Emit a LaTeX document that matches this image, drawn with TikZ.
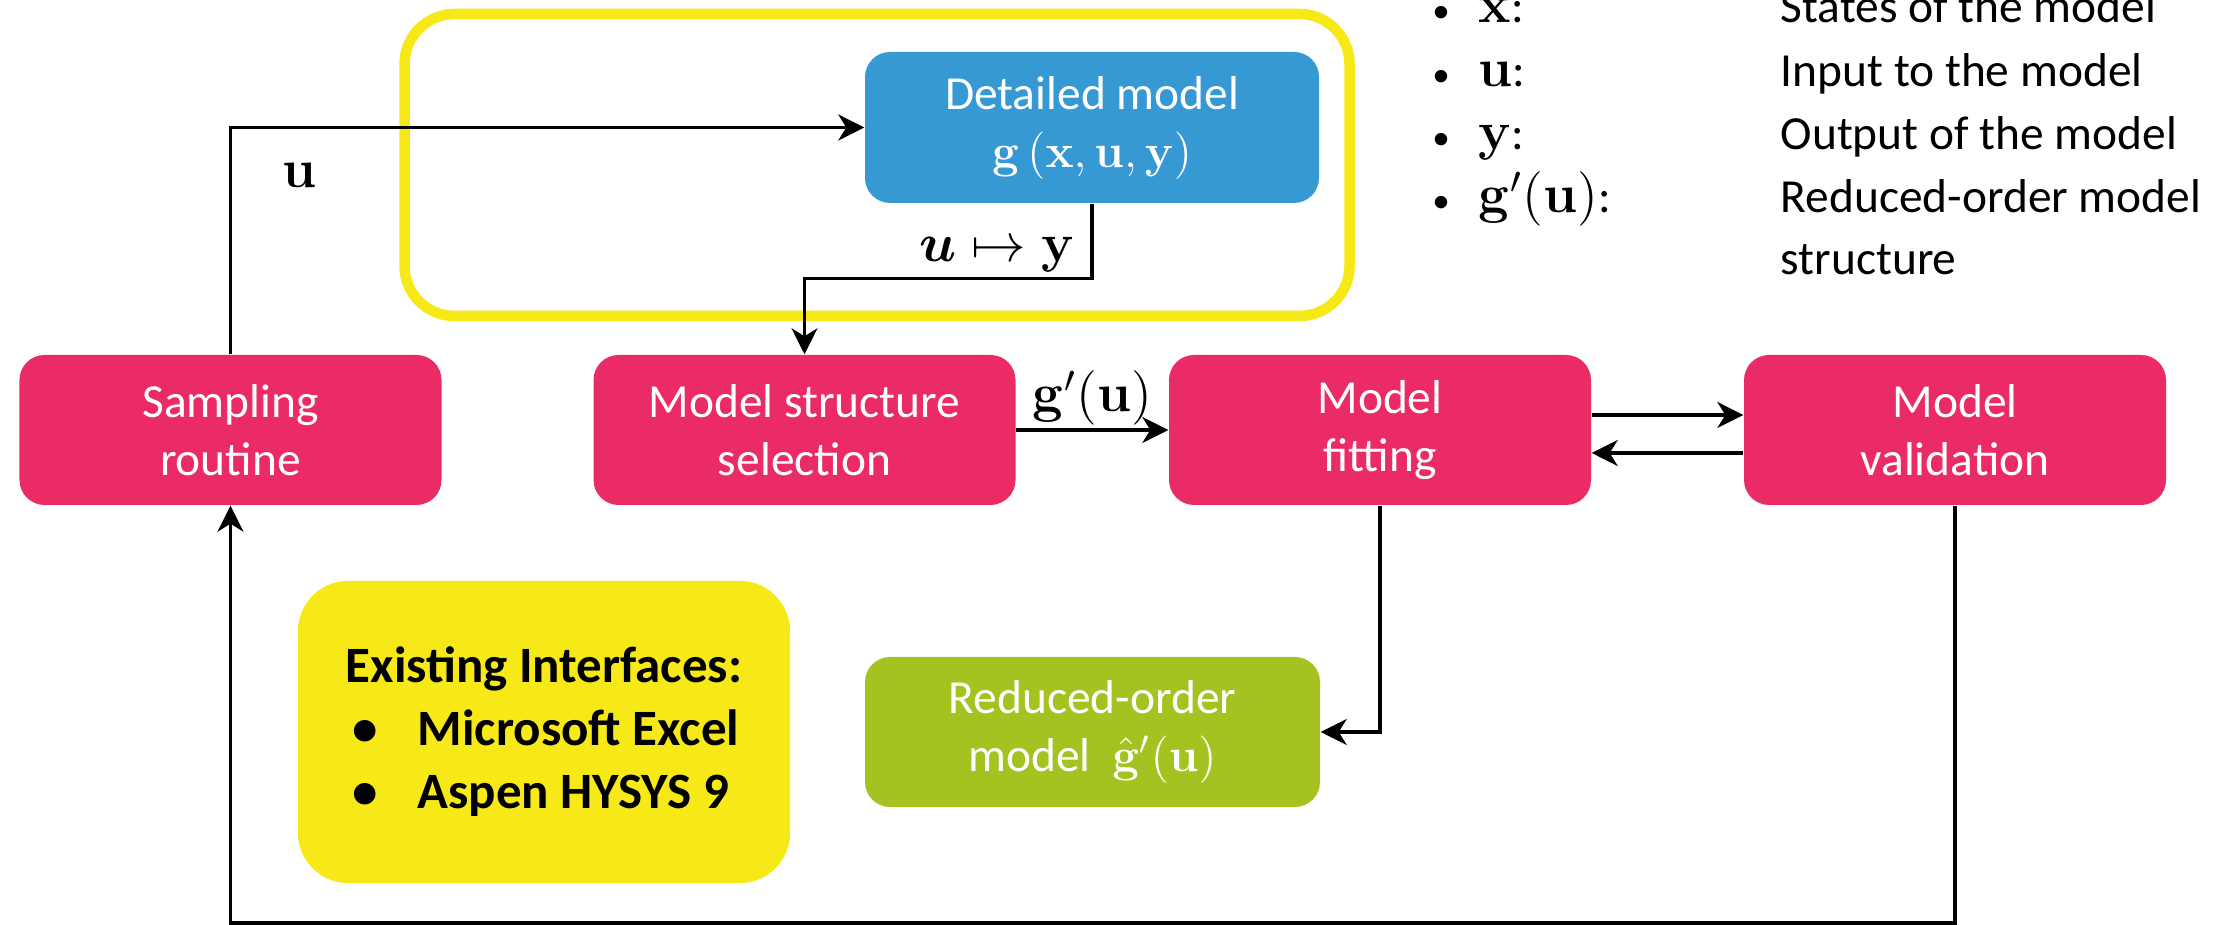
\RequirePackage{fix-cm}
\documentclass[tikz,border=0pt]{standalone}
\usepackage{amsmath, amssymb}
\usepackage[no-math]{fontspec}
\setmainfont{Carlito}
\usetikzlibrary{arrows.meta, positioning}

\definecolor{rosa}{RGB}{234,43,101}
\definecolor{azul}{RGB}{55,153,212}
\definecolor{verde}{RGB}{165,195,32}
\definecolor{amarillo}{RGB}{247,233,24}

\newcommand{\textoCaja}{\fontsize{13.5}{16.5}\selectfont}
\newcommand{\textoNegrita}{\fontsize{14.5}{17.9}\selectfont\bfseries}
\newcommand{\textoMat}{\fontsize{15.5}{18}\selectfont}

\tikzset{
  caja/.style={rectangle, rounded corners=0.25cm, text=white, align=center,
    minimum width=4.22cm, minimum height=1.5cm, inner sep=0pt, font=\textoCaja},
  flecha/.style={-{Stealth[length=0.26cm, width=0.26cm, inset=0.08cm]}, line width=0.9pt},
  leyenda/.style={anchor=base west, inner sep=0pt, font=\textoCaja},
  punto/.style={anchor=base, inner sep=0pt, font=\fontsize{10}{12}\selectfont},
}

\begin{document}
\begin{tikzpicture}
    \useasboundingbox (0,0) rectangle (22.26,9.25);

    % Marco amarillo
    \draw[amarillo, line width=0.105cm, rounded corners=0.5cm] (4.045,9.11) rectangle (13.495,6.09);

    % Definir las cajas
    \node[caja, fill=rosa] (muestreo) at (2.305,4.95) {Sampling\\routine};
    \node[caja, fill=rosa] (estructura) at (8.045,4.95) {Model structure\\selection};
    \node[caja, fill=rosa] (ajuste) at (13.80,4.95) {Model\\fitting};
    \node[caja, fill=rosa] (validacion) at (19.55,4.95) {Model\\validation};
    \node[caja, fill=azul, minimum width=4.54cm, minimum height=1.51cm] (detallado) at (10.92,7.975)
        {Detailed model\\$\mathbf{g}\,(\mathbf{x},\mathbf{u},\mathbf{y})$};
    \node[caja, fill=verde, minimum width=4.55cm] (reducido) at (10.925,1.93)
        {Reduced-order\\model~~$\hat{\mathbf{g}}'(\mathbf{u})$};
    \node[rectangle, rounded corners=0.5cm, fill=amarillo, minimum width=4.92cm, minimum height=3.02cm,
        align=left, font=\textoNegrita] (interfaces) at (5.44,1.93)
        {Existing Interfaces:\\
         \hspace*{0.07cm}\makebox[0.65cm][l]{•}Microsoft Excel\\
         \hspace*{0.07cm}\makebox[0.65cm][l]{•}Aspen HYSYS 9};

    % Conexiones
    \coordinate (suelo) at (0,0.02);
    \draw[flecha] (muestreo.north) |- (detallado.west);
    \draw[flecha] (detallado.south) -- ++(0,-0.75) -| (estructura.north);
    \draw[flecha] (estructura.east) -- node[above=0.03cm, inner sep=0pt, font=\textoMat] (etiqg)
        {$\mathbf{g}'(\mathbf{u})$} (ajuste.west);
    \draw[flecha] ([yshift=0.15cm]ajuste.east) -- ([yshift=0.15cm]validacion.west);
    \draw[flecha] ([yshift=-0.23cm]validacion.west) -- ([yshift=-0.23cm]ajuste.east);
    \draw[flecha] (ajuste.south) |- (reducido.east);
    \draw[flecha] (validacion.south) -- (validacion.south |- suelo) -| (muestreo.south);

    % Etiquetas de las conexiones
    \node[anchor=base, inner sep=0pt, font=\textoMat] (etiqu) at (3.0,7.37) {$\mathbf{u}$};
    \node[anchor=base east, inner sep=0pt, font=\textoMat] (etiquy) at (10.75,6.63)
        {$\boldsymbol{u}\mapsto\mathbf{y}$};

    % Leyenda
    \node[punto] (p1) at (14.41,9.02) {•};
    \node[punto] (p2) at (14.41,8.38) {•};
    \node[punto] (p3) at (14.41,7.75) {•};
    \node[punto] (p4) at (14.41,7.12) {•};
    \node[leyenda] (sx) at (14.78,9.02) {{\textoMat$\mathbf{x}$}:};
    \node[leyenda] (su) at (14.78,8.38) {{\textoMat$\mathbf{u}$}:};
    \node[leyenda] (sy) at (14.78,7.75) {{\textoMat$\mathbf{y}$}:};
    \node[leyenda] (sg) at (14.78,7.12) {{\textoMat$\mathbf{g}'(\mathbf{u})$}:};
    \node[leyenda] (dx) at (17.80,9.02) {States of the model};
    \node[leyenda] (du) at (17.80,8.38) {Input to the model};
    \node[leyenda] (dy) at (17.80,7.75) {Output of the model};
    \node[leyenda] (dg) at (17.80,7.12) {Reduced-order model};
    \node[leyenda] (dg2) at (17.80,6.50) {structure};

\end{tikzpicture}
\end{document}
